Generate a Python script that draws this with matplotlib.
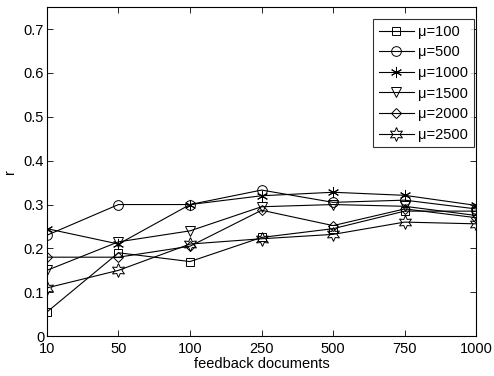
import matplotlib
matplotlib.use("Agg")
import matplotlib.pyplot as plt
import numpy as np

plt.rcParams['font.family'] = ['Liberation Sans', 'DejaVu Sans']

categories = ['10', '50', '100', '250', '500', '750', '1000']
labels = ['\u03bc=100', '\u03bc=500', '\u03bc=1000', '\u03bc=1500', '\u03bc=2000', '\u03bc=2500']
mu100 = [0.055, 0.19, 0.17, 0.225, 0.245, 0.285, 0.285]
mu500 = [0.23, 0.30, 0.30, 0.333, 0.305, 0.31, 0.29]
mu1000 = [0.245, 0.21, 0.30, 0.32, 0.328, 0.321, 0.298]
mu1500 = [0.15, 0.215, 0.24, 0.295, 0.30, 0.296, 0.275]
mu2000 = [0.18, 0.18, 0.205, 0.287, 0.252, 0.29, 0.27]
mu2500 = [0.11, 0.15, 0.21, 0.222, 0.232, 0.26, 0.256]
series = [mu100, mu500, mu1000, mu1500, mu2000, mu2500]
markers = ['s', 'o', (6, 2, 0), 'v', 'D', (6, 1, 0)]
sizes = [6, 7, 8, 7, 5, 10]

fig = plt.figure(figsize=(4.94, 3.76), dpi=100)
ax = fig.add_axes([0.095, 0.106, 0.869, 0.875])
x = np.arange(len(categories))
for s, m, ms, lab in zip(series, markers, sizes, labels):
    ax.plot(x, s, color='black', lw=0.8, marker=m, ms=ms,
            markerfacecolor='none', markeredgecolor='black', markeredgewidth=0.7, label=lab)

ax.set_xlim(0, len(categories) - 1)
ax.set_ylim(0, 0.75)
ax.set_xticks(x)
ax.set_xticklabels(categories)
ax.set_yticks(np.arange(0, 0.71, 0.1))
ax.set_yticklabels(['0', '0.1', '0.2', '0.3', '0.4', '0.5', '0.6', '0.7'])
ax.tick_params(direction='in', top=True, right=True, labelsize=10.5, length=4, width=0.6)
ax.tick_params(axis='x', pad=4)
ax.tick_params(axis='y', pad=2)
for sp in ax.spines.values():
    sp.set_linewidth(0.8)
ax.set_xlabel('feedback documents', fontsize=10.5, labelpad=1)
ax.set_ylabel('r', fontsize=10.5, labelpad=5)
leg = ax.legend(loc='upper right', bbox_to_anchor=(0.995, 0.964), fontsize=10.5, frameon=True,
                fancybox=False, edgecolor='black', borderaxespad=0, handlelength=2.4,
                handletextpad=0.3, labelspacing=0.45, borderpad=0.4)
leg.get_frame().set_linewidth(0.8)
fig.savefig('out.png', dpi=100)
